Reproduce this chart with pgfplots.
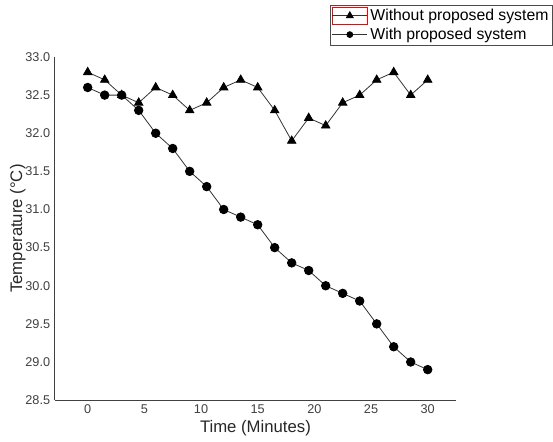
\documentclass[border=0pt]{standalone}
\usepackage{fontspec}
\setmainfont{Liberation Sans}
\usepackage{pgfplots}
\pgfplotsset{compat=1.18}

\begin{document}
\begin{tikzpicture}
\begin{axis}[
  scale only axis,
  width=300pt, height=256.6pt,
  xmin=-2.9, xmax=32.5,
  ymin=28.5, ymax=33.0,
  axis lines*=left,
  axis line style={black!75, line width=0.8pt},
  xtick={0,5,...,30},
  ytick={28.5,29,...,33},
  major tick length=0pt,
  tick label style={font=\fontsize{9.5}{11}\selectfont, text=black!75},
  /pgf/number format/assume math mode=true,
  yticklabel style={/pgf/number format/.cd, fixed, fixed zerofill, precision=1},
  xticklabel style={/pgf/number format/.cd, fixed, precision=0},
  xlabel={Time (Minutes)},
  ylabel={Temperature (°C)},
  label style={font=\fontsize{12.5}{14}\selectfont, text=black!85},
  xlabel style={yshift=2pt},
  ylabel style={yshift=-7pt},
  legend style={at={(1.241,1.152)}, anchor=north east, draw=black!70,
    font=\fontsize{11.8}{13}\selectfont, inner sep=1pt, row sep=0pt,
    cells={anchor=west}},
  legend cell align=left,
]
\addplot[black!80, line width=0.6pt, mark=triangle*, mark size=3.6pt,
  mark options={fill=black, draw=black},
  legend image code/.code={
    \draw[red, line width=0.5pt] (-0.05cm,-0.23cm) rectangle (0.88cm,0.23cm);
    \draw[black!80, line width=0.6pt] (-0.05cm,0cm) -- (0.88cm,0cm);
    \fill[black] (0.42cm,0cm) +(90:3pt) -- +(210:3pt) -- +(330:3pt) -- cycle;
  }] coordinates {
(0,32.8) (1.5,32.7) (3,32.5) (4.5,32.4) (6,32.6) (7.5,32.5) (9,32.3)
(10.5,32.4) (12,32.6) (13.5,32.7) (15,32.6) (16.5,32.3) (18,31.9)
(19.5,32.2) (21,32.1) (22.5,32.4) (24,32.5) (25.5,32.7) (27,32.8)
(28.5,32.5) (30,32.7)
};
\addlegendentry{Without proposed system}
\addplot[black!80, line width=0.6pt, mark=*, mark size=3.2pt,
  mark options={fill=black, draw=black},
  legend image code/.code={
    \draw[black!80, line width=0.6pt] (-0.05cm,0cm) -- (0.88cm,0cm);
    \fill[black] (0.42cm,0cm) circle (2.2pt);
  }] coordinates {
(0,32.6) (1.5,32.5) (3,32.5) (4.5,32.3) (6,32.0) (7.5,31.8) (9,31.5)
(10.5,31.3) (12,31.0) (13.5,30.9) (15,30.8) (16.5,30.5) (18,30.3)
(19.5,30.2) (21,30.0) (22.5,29.9) (24,29.8) (25.5,29.5) (27,29.2)
(28.5,29.0) (30,28.9)
};
\addlegendentry{With proposed system}
\end{axis}
% page margins as in the reference
\path (current axis.south west) ++(-41pt,-30.7pt);
\path (current axis.north east) ++(72.5pt,42.6pt);
\end{tikzpicture}
\end{document}
